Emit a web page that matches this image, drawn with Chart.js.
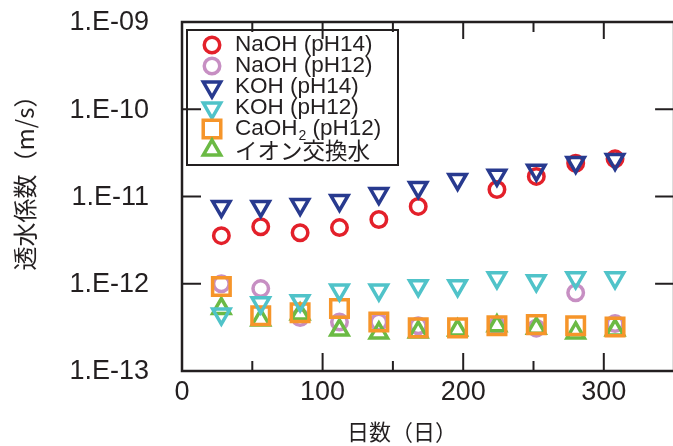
<!DOCTYPE html>
<html>
<head>
<meta charset="utf-8">
<script src="https://cdn.jsdelivr.net/npm/chart.js@4.4.1/dist/chart.umd.min.js"></script>
<style>
  html, body { margin: 0; padding: 0; background: #fff; overflow: hidden; }
  #wrap { width: 690px; height: 446px; }
</style>
</head>
<body>
<div id="wrap"><canvas id="c" width="690" height="446"></canvas></div>
<script>
// 経過日数
const days = [28, 56, 84, 112, 140, 168, 196, 224, 252, 280, 308];

// 透水係数 (m/s)
const naoh14 = [3.56e-12, 4.5e-12, 3.85e-12, 4.4e-12, 5.45e-12, 7.7e-12, null, 1.2e-11, 1.7e-11, 2.4e-11, 2.7e-11];
const naoh12 = [1.0e-12, 8.8e-13, 4.1e-13, 3.65e-13, 3.65e-13, 3.3e-13, null, 3.3e-13, 3.1e-13, 7.9e-13, 3.5e-13];
const koh14 = [7.7e-12, 7.7e-12, 8.1e-12, 9.0e-12, 1.08e-11, 1.27e-11, 1.57e-11, 1.75e-11, 2.0e-11, 2.46e-11, 2.66e-11];
const koh12 = [4.5e-13, 6.05e-13, 6.4e-13, 8.5e-13, 8.5e-13, 9.5e-13, 9.5e-13, 1.17e-12, 1.08e-12, 1.17e-12, 1.17e-12];
const caoh2 = [9.3e-13, 4.3e-13, 4.65e-13, 5.2e-13, 3.65e-13, 3.12e-13, 3.12e-13, 3.3e-13, 3.4e-13, 3.3e-13, 3.2e-13];
const ionWater = [5.2e-13, 3.85e-13, 4.5e-13, 2.95e-13, 2.73e-13, 2.8e-13, 2.95e-13, 3.3e-13, 3.1e-13, 2.73e-13, 2.95e-13];

// 凡例 [本文, 下付き, 続き]
const seriesNames = [
  ['NaOH (pH14)', '', ''],
  ['NaOH (pH12)', '', ''],
  ['KOH (pH14)', '', ''],
  ['KOH (pH12)', '', ''],
  ['CaOH', '2', ' (pH12)'],
  ['イオン交換水', '', '']
];

const yTicks = [1e-13, 1e-12, 1e-11, 1e-10, 1e-9];
const yTickLabels = ['1.E-13', '1.E-12', '1.E-11', '1.E-10', '1.E-09'];
const xMajor = [0, 100, 200, 300];
const xMinor = [50, 150, 250];

const INK = '#231f20';
const FONT = '"Liberation Sans", Arial, sans-serif';
const JFONT = '"Noto Sans CJK JP", "Noto Sans CJK SC", sans-serif';

const markers = [
  { color: '#e3202a', style: 'circle', radius: 7.75, rotation: 0, order: 6 },
  { color: '#c78fc3', style: 'circle', radius: 7.75, rotation: 0, order: 4 },
  { color: '#283a8f', style: 'triangle', radius: 10, rotation: 180, order: 5 },
  { color: '#50c3c9', style: 'triangle', radius: 10, rotation: 180, order: 1 },
  { color: '#f6952a', style: 'rect', radius: 12.4, rotation: 0, order: 2 },
  { color: '#6bba44', style: 'triangle', radius: 10, rotation: 0, order: 3 }
];

const allSeries = [naoh14, naoh12, koh14, koh12, caoh2, ionWater];

function toPoints(vals) {
  return days.map((d, i) => ({ x: d, y: vals[i] })).filter(p => p.y !== null);
}

const datasets = allSeries.map((vals, i) => ({
  label: seriesNames[i].join(''),
  data: toPoints(vals),
  showLine: false,
  pointStyle: markers[i].style,
  pointRadius: markers[i].radius,
  pointHoverRadius: markers[i].radius,
  pointRotation: markers[i].rotation,
  pointBorderWidth: 3.5,
  pointBorderColor: markers[i].color,
  pointBackgroundColor: 'rgba(0,0,0,0)',
  borderColor: markers[i].color,
  backgroundColor: 'rgba(0,0,0,0)',
  order: markers[i].order
}));

function line(ctx, x1, y1, x2, y2) {
  ctx.beginPath();
  ctx.moveTo(x1, y1);
  ctx.lineTo(x2, y2);
  ctx.stroke();
}

// 枠と内向きの目盛
const framePlugin = {
  id: 'frame',
  beforeDatasetsDraw(chart) {
    const { ctx, chartArea: a, scales: { x, y } } = chart;
    ctx.save();
    ctx.strokeStyle = INK;
    ctx.lineWidth = 2;
    xMajor.forEach(v => {
      const px = x.getPixelForValue(v);
      line(ctx, px, a.bottom, px, a.bottom - 18);
      line(ctx, px, a.top, px, a.top + 17);
    });
    xMinor.forEach(v => {
      const px = x.getPixelForValue(v);
      line(ctx, px, a.bottom, px, a.bottom - 10);
      line(ctx, px, a.top, px, a.top + 10);
    });
    yTicks.forEach(v => {
      const py = y.getPixelForValue(v);
      line(ctx, a.left, py, a.left + 19, py);
      line(ctx, a.right, py, a.right - 19, py);
    });
    ctx.lineWidth = 2.5;
    ctx.strokeRect(a.left, a.top, a.right - a.left, a.bottom - a.top);
    ctx.restore();
  }
};

function drawMarker(ctx, m, x, y) {
  ctx.save();
  ctx.strokeStyle = m.color;
  ctx.fillStyle = 'rgba(0,0,0,0)';
  ctx.lineWidth = 3.5;
  Chart.helpers.drawPoint(ctx, {
    pointStyle: m.style, rotation: m.rotation, radius: m.radius, borderWidth: 3.5
  }, x, y);
  ctx.restore();
}

// 凡例と軸タイトル
const legendPlugin = {
  id: 'boxLegend',
  afterDraw(chart) {
    const ctx = chart.ctx;
    ctx.save();
    ctx.strokeStyle = INK;
    ctx.lineWidth = 2;
    ctx.strokeRect(187, 30, 211, 135);

    seriesNames.forEach((name, i) => {
      const ry = 45 + i * 21;
      drawMarker(ctx, markers[i], 212, ry);
      ctx.fillStyle = INK;
      ctx.textBaseline = 'middle';
      ctx.textAlign = 'left';
      let tx = 235;
      ctx.font = '22.5px ' + (i === 5 ? JFONT : FONT);
      ctx.fillText(name[0], tx, ry);
      tx += ctx.measureText(name[0]).width;
      if (name[1]) {
        ctx.font = '14px ' + FONT;
        ctx.fillText(name[1], tx + 1, ry + 7);
        tx += ctx.measureText(name[1]).width + 1;
        ctx.font = '22.5px ' + FONT;
        ctx.fillText(name[2], tx, ry);
      }
    });

    ctx.fillStyle = INK;
    ctx.textAlign = 'center';
    ctx.textBaseline = 'middle';
    ctx.font = '22px ' + JFONT;
    ctx.fillText('日数（日）', 402, 432);

    ctx.translate(25, 177);
    ctx.rotate(-Math.PI / 2);
    ctx.font = '24px ' + JFONT;
    ctx.fillText('透水係数（m/s）', 0, 0);
    ctx.restore();
  }
};

new Chart(document.getElementById('c'), {
  type: 'scatter',
  data: { datasets },
  options: {
    responsive: false,
    animation: false,
    layout: { padding: { top: 22, right: 12, left: 0, bottom: 0 } },
    plugins: { legend: { display: false }, tooltip: { enabled: false } },
    scales: {
      x: {
        type: 'linear',
        min: 0,
        max: 350,
        grid: { display: false, drawTicks: false },
        border: { display: false },
        afterBuildTicks: s => { s.ticks = xMajor.map(v => ({ value: v })); },
        afterFit: s => { s.height = 75; s.paddingLeft = 0; s.paddingRight = 0; },
        ticks: {
          color: INK,
          padding: 5,
          maxRotation: 0,
          autoSkip: false,
          font: { family: FONT, size: 27 }
        }
      },
      y: {
        type: 'logarithmic',
        min: 1e-13,
        max: 1e-9,
        grid: { display: false, drawTicks: false },
        border: { display: false },
        afterBuildTicks: s => { s.ticks = yTicks.map(v => ({ value: v })); },
        afterFit: s => { s.width = 182; s.paddingTop = 0; s.paddingBottom = 0; },
        ticks: {
          color: INK,
          padding: 33,
          labelOffset: 1,
          autoSkip: false,
          font: { family: FONT, size: 27 },
          callback: v => yTickLabels[yTicks.indexOf(v)]
        }
      }
    }
  },
  plugins: [framePlugin, legendPlugin]
});
</script>
</body>
</html>
